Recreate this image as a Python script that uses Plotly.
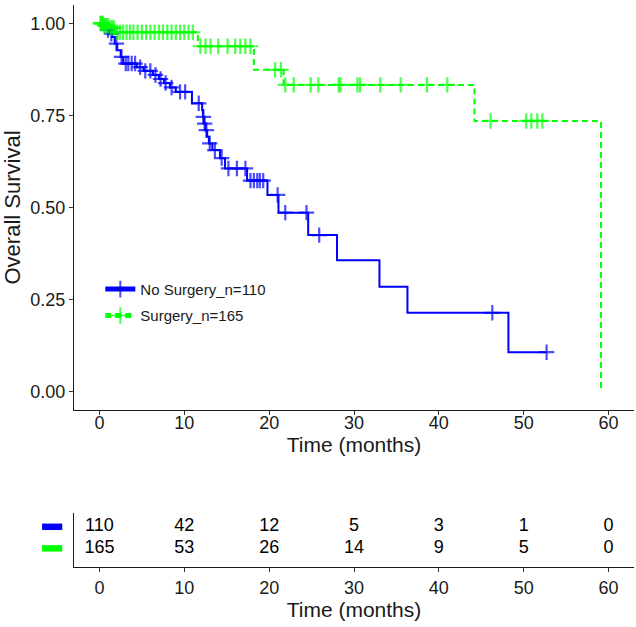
import plotly.graph_objects as go

# ---------------- data ----------------
no_event_times = [0.5, 0.9, 1.2, 1.5, 1.8, 2.1, 2.5, 2.8, 4.4, 5.2, 6.3, 7.0, 7.6, 8.3, 9.0,
                  10.9, 12.1, 12.2, 12.3, 12.5, 12.7, 12.9, 13.3, 14.2, 14.8, 17.4, 19.8,
                  21.1, 24.6, 28.0, 33.0, 36.3, 48.2]
no_event_surv = [0.991, 0.982, 0.972, 0.963, 0.945, 0.927, 0.909, 0.891, 0.881, 0.871, 0.860,
                 0.849, 0.838, 0.826, 0.814, 0.783, 0.765, 0.746, 0.728, 0.710, 0.692, 0.674,
                 0.656, 0.634, 0.606, 0.573, 0.534, 0.486, 0.425, 0.357, 0.285, 0.214, 0.107]
no_censor_times = [1.0, 1.4, 2.0, 2.6, 3.1, 3.4, 3.8, 4.2, 4.8, 5.4, 6.0, 6.6, 7.2, 7.8, 8.5,
                   9.5, 10.1, 11.7, 12.25, 12.4, 12.6, 13.0, 13.6, 14.4, 15.2, 16.2, 17.2, 17.8,
                   18.2, 18.6, 18.9, 19.3, 21.0, 21.9, 24.4, 25.9, 46.3, 52.7]

yes_event_times = [0.5, 1.2, 1.9, 11.6, 18.2, 21.7, 44.2, 59.1]
yes_event_surv = [0.994, 0.988, 0.976, 0.938, 0.874, 0.833, 0.735, 0.0]
yes_censor_times = [0.1, 0.2, 0.3, 0.4, 0.6, 0.7, 0.8, 1.0, 1.3, 1.5, 1.7, 2.1, 2.4, 2.8, 3.2,
                    3.6, 4.0, 4.5, 5.0, 5.5, 6.0, 6.5, 7.0, 7.5, 8.0, 8.5, 9.0, 9.5, 10.0,
                    10.5, 11.0, 11.9, 12.5, 13.1, 14.0, 15.1, 16.0, 16.6, 17.2, 17.8, 20.7,
                    21.4, 21.9, 22.9, 24.9, 25.8, 28.2, 28.4, 30.4, 30.7, 33.1, 35.5, 38.6,
                    41.0, 46.1, 50.3, 50.9, 51.6, 52.2]

group_names = ["No Surgery_n=110", "Surgery_n=165"]
group_colors = ["#0000FF", "#00FF00"]

risk_times = [0, 10, 20, 30, 40, 50, 60]
risk_no = [110, 42, 12, 5, 3, 1, 0]
risk_yes = [165, 53, 26, 14, 9, 5, 0]

x_ticks = [0, 10, 20, 30, 40, 50, 60]
y_ticks = [0.0, 0.25, 0.5, 0.75, 1.0]


def km_points(ev_t, ev_s, cen_t):
    def surv_at(t):
        s = 1.0
        for et, es in zip(ev_t, ev_s):
            if et <= t:
                s = es
        return s
    pts = [(0.0, 1.0, 0)]
    pts += [(t, s, 0) for t, s in zip(ev_t, ev_s)]
    pts += [(t, surv_at(t), 1) for t in cen_t]
    pts.sort(key=lambda p: (p[0], -p[1]))
    xs = [p[0] for p in pts]
    ys = [p[1] for p in pts]
    sz = [11 if p[2] else 0 for p in pts]
    return xs, ys, sz


FONT = "Liberation Sans, Arial, sans-serif"
fig = go.Figure()

groups = [(no_event_times, no_event_surv, no_censor_times, "solid"),
          (yes_event_times, yes_event_surv, yes_censor_times, "6px,4px")]
for i, ((et, es, ct, dash), name, col) in enumerate(zip(groups, group_names, group_colors)):
    xs, ys, sz = km_points(et, es, ct)
    fig.add_trace(go.Scatter(
        x=xs, y=ys, mode="lines+markers", name=name, legendgroup=f"g{i}",
        line=dict(color=col, width=2, shape="hv", dash=dash),
        marker=dict(symbol="cross-thin", size=sz, color=col,
                    line=dict(color=col, width=2.2)),
        xaxis="x", yaxis="y", hoverinfo="skip"))

# risk table
for row, vals in zip([2, 1], [risk_no, risk_yes]):
    fig.add_trace(go.Scatter(
        x=risk_times, y=[row] * len(risk_times), mode="text",
        text=[str(v) for v in vals], textposition="middle center",
        textfont=dict(family=FONT, size=18, color="black"),
        xaxis="x2", yaxis="y2", showlegend=False, hoverinfo="skip"))

for row, col in zip([2, 1], group_colors):
    fig.add_shape(type="rect", xref="paper", yref="y2",
                  x0=-0.057, x1=-0.021, y0=row - 0.15, y1=row + 0.15,
                  fillcolor=col, line=dict(width=0))

axis_common = dict(showline=True, linecolor="#1a1a1a", linewidth=1.3, ticks="outside",
                   tickcolor="#333333", ticklen=4, tickwidth=1.2, showgrid=False,
                   zeroline=False, automargin=False,
                   tickfont=dict(family=FONT, size=18, color="#1a1a1a"))

fig.update_layout(
    width=636, height=627,
    margin=dict(l=74, r=2, t=5, b=60),
    paper_bgcolor="white", plot_bgcolor="white",
    font=dict(family=FONT, color="#1a1a1a"),
    xaxis=dict(domain=[0, 1], range=[-3, 63], tickvals=x_ticks, anchor="y",
               ticklabelstandoff=-8,
               title=dict(text="Time (months)", font=dict(family=FONT, size=21), standoff=2),
               **axis_common),
    yaxis=dict(domain=[0.2794, 1], range=[-0.05, 1.05], tickvals=y_ticks,
               tickformat=".2f", anchor="x",
               title=dict(text="Overall Survival", font=dict(family=FONT, size=22), standoff=4),
               **axis_common),
    xaxis2=dict(domain=[0, 1], range=[-3, 63], tickvals=x_ticks, anchor="y2",
                title=dict(text="Time (months)", font=dict(family=FONT, size=21), standoff=2),
                **axis_common),
    yaxis2=dict(domain=[0, 0.0961], range=[0.136, 2.64], anchor="x2",
                showline=True, linecolor="#1a1a1a", linewidth=1.3, showticklabels=False,
                ticks="", showgrid=False, zeroline=False, automargin=False),
    legend=dict(x=0.047, y=0.471, xanchor="left", yanchor="middle", bgcolor="rgba(0,0,0,0)",
                font=dict(family=FONT, size=15, color="#1a1a1a"), itemsizing="constant",
                tracegroupgap=4, itemwidth=30),
    showlegend=True,
)

fig.write_html("out.html", post_script="document.body.style.margin='0';",
               config={"displayModeBar": False})
